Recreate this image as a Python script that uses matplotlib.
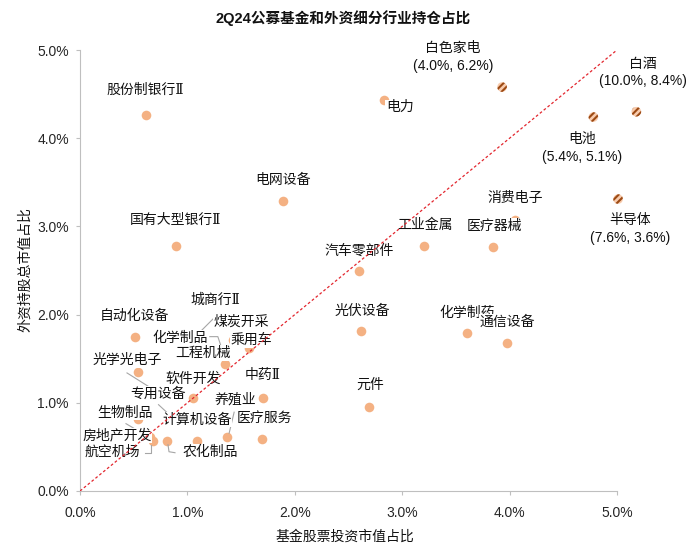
import matplotlib
matplotlib.use("Agg")
import matplotlib.pyplot as plt
from matplotlib.lines import Line2D
from matplotlib.transforms import IdentityTransform

plt.rcParams['font.family'] = ['Liberation Sans', 'Noto Sans CJK SC']
plt.rcParams['hatch.linewidth'] = 1.5

# 行业持仓占比 (%): x = 基金股票投资市值占比, y = 外资持股总市值占比
names = ['股份制银行Ⅱ', '电力', '电网设备', '国有大型银行Ⅱ', '汽车零部件', '工业金属',
         '医疗器械', '消费电子', '光伏设备', '化学制药', '通信设备', '元件',
         '自动化设备', '光学光电子', '城商行Ⅱ', '化学制品', '煤炭开采', '乘用车',
         '工程机械', '软件开发', '中药Ⅱ', '专用设备', '养殖业', '生物制品',
         '计算机设备', '医疗服务', '房地产开发', '航空机场', '农化制品']
fund_pct = [0.61, 2.83, 1.89, 0.89, 2.60, 3.20,
            3.85, 4.05, 2.62, 3.60, 3.98, 2.69,
            0.51, 0.54, 1.11, 1.33, 1.42, 1.57,
            1.35, 1.05, 1.70, 0.88, 1.37, 0.54,
            1.09, 1.69, 0.65, 0.68, 0.81]
foreign_pct = [4.26, 4.43, 3.29, 2.78, 2.49, 2.78,
               2.77, 3.07, 1.81, 1.79, 1.68, 0.95,
               1.75, 1.35, 1.76, 1.58, 1.71, 1.62,
               1.44, 1.05, 1.05, 0.82, 0.61, 0.82,
               0.57, 0.59, 0.61, 0.57, 0.57]

# 超出坐标范围的行业: 真实值, 以及在截断坐标轴上的显示位置
out_names = ['白色家电', '白酒', '电池', '半导体']
out_fund = [4.0, 10.0, 5.4, 7.6]
out_foreign = [6.2, 8.4, 5.1, 3.6]
out_show_x = [3.93, 5.18, 4.78, 5.01]
out_show_y = [4.58, 4.30, 4.24, 3.31]

ticks = [0, 1, 2, 3, 4, 5]

# 标签偏移 (像素, 向右/向上)
label_offsets = {
    '股份制银行Ⅱ': (0, 25), '电力': (16, -7), '电网设备': (0, 21),
    '国有大型银行Ⅱ': (0, 26), '汽车零部件': (0, 21), '工业金属': (1, 21),
    '医疗器械': (1, 21), '消费电子': (0, 22), '光伏设备': (1, 20),
    '化学制药': (1, 20), '通信设备': (0, 21), '元件': (1, 22),
    '自动化设备': (0, 21), '光学光电子': (-11, 12), '城商行Ⅱ': (16, 36),
    '化学制品': (-43, 14), '煤炭开采': (9, 18), '乘用车': (3, 8),
    '工程机械': (-22, 11), '软件开发': (0, 20), '中药Ⅱ': (0, 23),
    '专用设备': (-17, 25), '养殖业': (8, 38), '生物制品': (-13, 6),
    '计算机设备': (0, 21), '医疗服务': (3, 21), '房地产开发': (-33, 2),
    '航空机场': (-41, -11), '农化制品': (43, -11),
}
out_offsets = {'白色家电': (-49, 30), '白酒': (7, 39), '电池': (-11, -31), '半导体': (12, -30)}

# 引导线 (像素, 相对数据点)
leaders = {
    '城商行Ⅱ': [(16, 19), (2, 5)],
    '化学制品': [(-13, 15), (-5, 15), (-1, 3)],
    '光学光电子': [(-11, -1), (16, -18)],
    '专用设备': [(-16, 14), (-3, 2)],
    '生物制品': [(-12, -5), (0, -12)],
    '航空机场': [(-8, -12), (-2, -12), (-2, -4)],
    '农化制品': [(1, -4), (2, -11), (8, -12)],
    '养殖业': [(7, 25), (2, 4)],
}

fig = plt.figure(figsize=(7, 5.57), dpi=100)
ax = fig.add_axes([80 / 700, 66 / 557, 537 / 700, 441 / 557])
ax.set_xlim(0, 5)
ax.set_ylim(0, 5)

# 45度线
ax.plot([0, 5], [0, 5], color='#E3262E', lw=0.9, ls=(0, (2.2, 1.8)), zorder=5)

ax.scatter(fund_pct, foreign_pct, s=48, color='#F4B183', linewidths=0, zorder=2)
ax.scatter(out_show_x, out_show_y, s=48, facecolor='#F8CBAD', edgecolor='#9C4A14',
           hatch='/////', linewidths=0, zorder=2, clip_on=False)

cjk = ['Noto Sans CJK SC', 'DejaVu Sans']
# 罗马数字Ⅱ用衬线字体显示
name_font = ['DejaVu Serif', 'Noto Sans CJK SC']
box = dict(boxstyle='square,pad=0.05', fc='white', ec='none')
for n, x, y in zip(names, fund_pct, foreign_pct):
    ax.annotate(n, (x, y), xytext=label_offsets[n], textcoords='offset pixels',
                ha='center', va='center', fontsize=10, color='#111111', family=name_font,
                zorder=3, bbox=box, annotation_clip=False)
    if n in leaders:
        bx, by = ax.transData.transform((x, y))
        xs = [bx + p[0] for p in leaders[n]]
        ys = [by + p[1] for p in leaders[n]]
        ax.add_line(Line2D(xs, ys, transform=IdentityTransform(), color='#A6A6A6',
                           lw=0.8, zorder=2.5))

for n, fx, fy, sx, sy in zip(out_names, out_fund, out_foreign, out_show_x, out_show_y):
    ax.annotate(f'{n}\n({fx:.1f}%, {fy:.1f}%)', (sx, sy), xytext=out_offsets[n],
                textcoords='offset pixels', ha='center', va='center', fontsize=10,
                color='#111111', linespacing=1.3, zorder=3, annotation_clip=False)

ax.set_xticks(ticks)
ax.set_yticks(ticks)
ax.set_xticklabels([f'{t:.1f}%' for t in ticks])
ax.set_yticklabels([f'{t:.1f}%' for t in ticks])
for s in ['top', 'right']:
    ax.spines[s].set_visible(False)
for s in ['left', 'bottom']:
    ax.spines[s].set_color('#BFBFBF')
ax.tick_params(colors='#BFBFBF', labelcolor='#262626', labelsize=10, length=3)
ax.tick_params(axis='x', pad=8)
ax.tick_params(axis='y', pad=5)

fig.text(0.49, 1 - 18 / 557, '2Q24公募基金和外资细分行业持仓占比', ha='center', va='center',
         fontsize=10.5, fontweight='bold', color='#111111')
fig.text(345 / 700, 1 - 537 / 557, '基金股票投资市值占比', ha='center', va='center',
         fontsize=10, color='#111111', family=cjk)
fig.text(25 / 700, 1 - 270 / 557, '外资持股总市值占比', ha='center', va='center',
         rotation=90, fontsize=10, color='#111111', family=cjk)

fig.savefig('out.png', dpi=100)
